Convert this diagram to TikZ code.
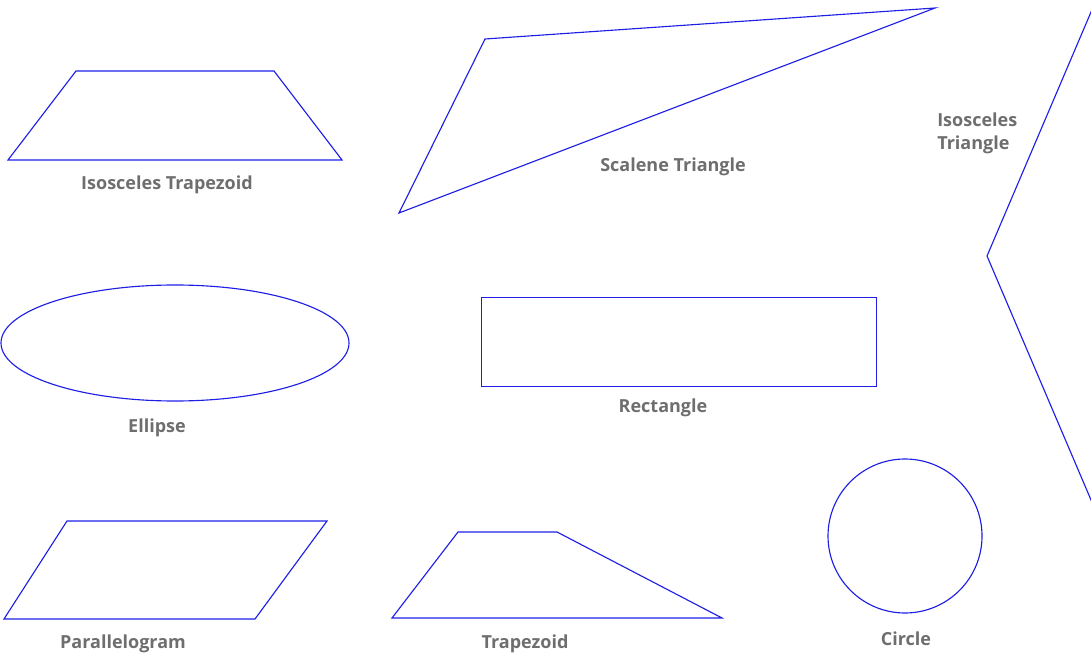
\documentclass[tikz,border=0pt]{standalone}
\usepackage{fontspec}
\setmainfont{Open Sans}
\definecolor{shapeblue}{RGB}{30,30,230}
\definecolor{labelgray}{RGB}{110,110,110}
\tikzset{
  shp/.style={draw=shapeblue, line width=0.85pt, line join=miter},
  lbl/.style={text=labelgray, font=\fontsize{13.5pt}{17pt}\selectfont\bfseries, inner sep=0pt},
}
\begin{document}
\begin{tikzpicture}[x=0.75pt,y=-0.75pt]
\useasboundingbox (0,0) rectangle (1091,655);
\begin{scope}
\clip (0,0) rectangle (1091,655);
% Isosceles trapezoid
\draw[shp] (8,160) -- (76,71) -- (274,71) -- (342,160) -- cycle;
\node[lbl] (lit) at (167,185) {Isosceles Trapezoid};
% Scalene triangle
\draw[shp] (399,213) -- (485,39) -- (935,8) -- cycle;
\node[lbl] (lst) at (673,167) {Scalene Triangle};
% Isosceles triangle (partly outside)
\draw[shp] (1120,-56) -- (987,256) -- (1120,568);
\node[lbl, anchor=west, align=left] (lit2) at (937,133) {Isosceles\\Triangle};
% Ellipse
\draw[shp] (175,343) ellipse [x radius=174, y radius=58];
\node[lbl] (lel) at (157,428) {Ellipse};
% Rectangle
\draw[shp] (481.5,297.5) rectangle (876.5,386.5);
\node[lbl] (lre) at (663,408) {Rectangle};
% Parallelogram
\draw[shp] (4,619) -- (67,521) -- (327,521) -- (255,619) -- cycle;
\node[lbl] (lpa) at (123,644) {Parallelogram};
% Trapezoid
\draw[shp] (392,618) -- (458,532) -- (557,532) -- (722,618) -- cycle;
\node[lbl] (ltr) at (525,644) {Trapezoid};
% Circle
\draw[shp] (905,536) circle [radius=77];
\node[lbl] (lci) at (906,639) {Circle};
\end{scope}
\end{tikzpicture}
\end{document}
